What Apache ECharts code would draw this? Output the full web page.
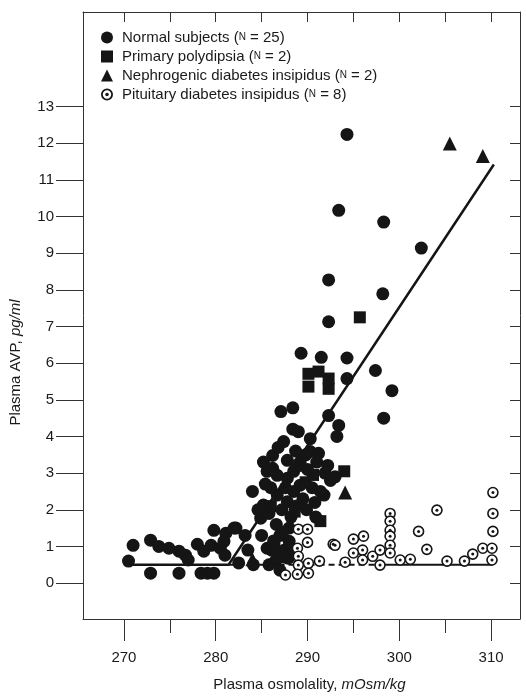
<!DOCTYPE html>
<html>
<head>
<meta charset="utf-8">
<script src="https://cdn.jsdelivr.net/npm/echarts@6/dist/echarts.min.js"></script>
<style>
  html, body { margin: 0; padding: 0; background: #fff; }
  #chart { width: 526px; height: 697px; }
</style>
</head>
<body>
<div id="chart"></div>
<script>
// axis ranges and tick values
const xMin = 265.54, xMax = 313.15;
const yMin = -0.98, yMax = 15.58;
const xLabels = [270, 280, 290, 300, 310];
const xMinorTicks = [275, 285, 295, 305];
const xTopTicks = [270, 275, 280, 285, 290, 295, 300, 305, 310];
const yLabels = [0, 1, 2, 3, 4, 5, 6, 7, 8, 9, 10, 11, 12, 13];

// Normal subjects (filled circles)
const normalPts = [
  [271.0, 1.03], [270.5, 0.6], [272.9, 1.17], [273.8, 1.0], [274.9, 0.95], [276.0, 0.87],
  [276.7, 0.76], [277.0, 0.63], [278.0, 1.06], [278.7, 0.87], [279.5, 1.03], [280.5, 0.95],
  [279.8, 1.44], [281.1, 1.36], [282.2, 1.5], [281.0, 0.76],
  [272.9, 0.27], [276.0, 0.27], [278.4, 0.27], [279.1, 0.27], [279.8, 0.27],
  [284.0, 2.5], [285.2, 2.13], [286.7, 2.4], [287.8, 2.22], [284.9, 1.77], [285.8, 1.9],
  [286.6, 1.6], [285.0, 1.3], [285.6, 0.95], [286.3, 1.15], [287.0, 1.3], [287.5, 0.9],
  [286.5, 0.6], [287.0, 0.35], [285.8, 0.5], [284.1, 0.5], [288.0, 1.14], [287.9, 0.68],
  [288.2, 1.8], [288.5, 2.5], [289.2, 2.67], [285.6, 3.05], [286.7, 2.94], [286.2, 3.48],
  [285.2, 3.3], [286.2, 3.13], [287.8, 3.35], [287.8, 2.86], [288.5, 3.05], [287.4, 3.86],
  [287.1, 4.68], [288.4, 4.78], [288.4, 4.2], [289.0, 4.13], [290.3, 3.94], [290.3, 3.59],
  [291.2, 3.54], [292.2, 3.21], [289.2, 3.3], [290.0, 3.1], [291.0, 3.3], [290.5, 2.6],
  [291.8, 2.4], [289.5, 2.3], [292.5, 2.8], [291.4, 2.5], [292.3, 4.57], [293.4, 4.3],
  [293.2, 4.0], [282.0, 1.5], [280.9, 1.14],
  [286.0, 2.6], [287.2, 2.0], [288.0, 1.5], [288.8, 2.1], [289.8, 3.5], [290.8, 2.2],
  [291.9, 3.0], [288.7, 3.6], [286.8, 3.7], [285.4, 2.7], [287.6, 2.6], [286.1, 0.9],
  [288.4, 0.9], [284.6, 2.0], [283.2, 1.3], [283.5, 0.9], [282.5, 0.55], [293.0, 2.9],
  [289.9, 2.0], [290.9, 1.8],
  [289.3, 6.27], [291.5, 6.16], [294.3, 6.14], [297.4, 5.8], [294.3, 5.58], [299.2, 5.25],
  [298.3, 4.5], [292.3, 7.13], [298.2, 7.89], [292.3, 8.27], [302.4, 9.14], [298.3, 9.85],
  [293.4, 10.17], [294.3, 12.24]
];

// Primary polydipsia (filled squares)
const polydipsiaPts = [
  [290.1, 5.71], [291.2, 5.77], [292.3, 5.58], [292.3, 5.3], [290.1, 5.36], [295.7, 7.25],
  [294.0, 3.05], [291.4, 1.69], [286.4, 1.0], [287.3, 1.4], [288.6, 1.95], [289.8, 2.75],
  [290.6, 2.95], [286.0, 2.1], [287.0, 0.7], [288.8, 3.2]
];

// Nephrogenic diabetes insipidus (filled triangles)
const nephrogenicPts = [
  [305.5, 11.99], [309.1, 11.65], [294.1, 2.47], [284.0, 0.65]
];

// Pituitary diabetes insipidus (open circles with dot)
const pituitaryPts = [
  [289.0, 1.47], [290.0, 1.47], [290.0, 1.11], [288.9, 0.95], [292.8, 1.06], [289.0, 0.73],
  [290.1, 0.54], [291.3, 0.6], [289.0, 0.49], [287.6, 0.22], [288.9, 0.24], [290.1, 0.27],
  [293.0, 1.03], [295.0, 1.2], [296.1, 1.28], [296.0, 0.9], [295.0, 0.82], [294.1, 0.57],
  [297.1, 0.73], [297.9, 0.9], [297.9, 0.49], [296.0, 0.63], [299.0, 1.9], [299.0, 1.69],
  [299.0, 1.44], [299.0, 1.28], [299.0, 1.03], [299.0, 0.82], [300.1, 0.63], [301.2, 0.65],
  [302.1, 1.41], [304.1, 1.99], [303.0, 0.92], [305.2, 0.6], [307.1, 0.6], [308.0, 0.79],
  [309.1, 0.95], [310.1, 0.95], [310.1, 0.63], [310.2, 1.41], [310.2, 1.9], [310.2, 2.47]
];

// fitted lines
const trendLine = [[270, 0.5], [281.4, 0.5], [310.3, 11.42]];
const baseDashed = [[281.4, 0.5], [297.5, 0.5]];
const baseSolid = [[297.5, 0.5], [310.2, 0.5]];

const legendText = {
  normal: 'Normal subjects ({n|N} = 25)',
  poly: 'Primary polydipsia ({n|N} = 2)',
  neph: 'Nephrogenic diabetes insipidus ({n|N} = 2)',
  pit: 'Pituitary diabetes insipidus ({n|N} = 8)'
};

const ink = '#151515';
const font = 'Liberation Sans';
const ringIcon = 'path://M0,-10A10,10,0,1,1,0,10A10,10,0,1,1,0,-10ZM0,-7A7,7,0,1,0,0,7A7,7,0,1,0,0,-7ZM0,-3A3,3,0,1,1,0,3A3,3,0,1,1,0,-3Z';

const chart = echarts.init(document.getElementById('chart'), null, { renderer: 'canvas' });

chart.setOption({
  animation: false,
  backgroundColor: '#fff',
  textStyle: { fontFamily: font },
  grid: { left: 82, right: 6, top: 12, bottom: 76 },
  legend: {
    orient: 'vertical',
    left: 96,
    top: 25,
    itemWidth: 12,
    itemHeight: 12,
    itemGap: 4,
    selectedMode: false,
    data: [
      { name: 'normal', icon: 'circle' },
      { name: 'poly', icon: 'rect' },
      { name: 'neph', icon: 'triangle' },
      { name: 'pit', icon: ringIcon, itemStyle: { color: ink, borderWidth: 0 } }
    ],
    formatter: name => legendText[name],
    textStyle: {
      fontSize: 15,
      color: '#1a1a1a',
      padding: [0, 0, 0, 4],
      rich: { n: { fontSize: 10, color: '#1a1a1a' } }
    }
  },
  xAxis: [
    {
      type: 'value', position: 'bottom', min: xMin, max: xMax,
      axisLine: { show: true, onZero: false, lineStyle: { color: '#333', width: 1 } },
      axisTick: { show: true, inside: false, length: 22, customValues: xLabels, lineStyle: { color: '#333' } },
      axisLabel: { customValues: xLabels, fontSize: 15, color: '#1a1a1a', margin: 31 },
      splitLine: { show: false },
      name: 'Plasma osmolality, {i|mOsm/kg}',
      nameLocation: 'middle',
      nameGap: 58,
      nameTextStyle: {
        fontSize: 15, color: '#1a1a1a', padding: [0, 0, 0, 16],
        rich: { i: { fontSize: 15, fontStyle: 'italic', color: '#1a1a1a' } }
      }
    },
    {
      type: 'value', position: 'bottom', min: xMin, max: xMax,
      axisLine: { show: false, onZero: false },
      axisTick: { show: true, inside: false, length: 14, customValues: xMinorTicks, lineStyle: { color: '#333' } },
      axisLabel: { show: false },
      splitLine: { show: false }
    },
    {
      type: 'value', position: 'top', min: xMin, max: xMax,
      axisLine: { show: true, onZero: false, lineStyle: { color: '#333', width: 1 } },
      axisTick: { show: true, inside: true, length: 10, customValues: xTopTicks, lineStyle: { color: '#333' } },
      axisLabel: { show: false },
      splitLine: { show: false }
    }
  ],
  yAxis: [
    {
      type: 'value', position: 'left', min: yMin, max: yMax,
      axisLine: { show: true, onZero: false, lineStyle: { color: '#333', width: 1 } },
      axisTick: { show: true, inside: false, length: 27, customValues: yLabels, lineStyle: { color: '#333' } },
      axisLabel: { customValues: yLabels, fontSize: 15, color: '#1a1a1a', margin: 29 },
      splitLine: { show: false },
      name: 'Plasma AVP, {i|pg/ml}',
      nameLocation: 'middle',
      nameRotate: 90,
      nameGap: 60,
      nameTextStyle: {
        fontSize: 15, color: '#1a1a1a', padding: [0, 94, 0, 0],
        rich: { i: { fontSize: 15, fontStyle: 'italic', color: '#1a1a1a' } }
      }
    },
    {
      type: 'value', position: 'right', min: yMin, max: yMax,
      axisLine: { show: true, onZero: false, lineStyle: { color: '#333', width: 1 } },
      axisTick: { show: true, inside: true, length: 10, customValues: yLabels, lineStyle: { color: '#333' } },
      axisLabel: { show: false },
      splitLine: { show: false }
    }
  ],
  series: [
    {
      name: 'trend', type: 'line', data: trendLine, symbol: 'none', z: 6,
      lineStyle: { color: ink, width: 2.5 }
    },
    {
      name: 'baseDashed', type: 'line', data: baseDashed, symbol: 'none', z: 1,
      lineStyle: { color: ink, width: 2, type: [6, 4] }
    },
    {
      name: 'baseSolid', type: 'line', data: baseSolid, symbol: 'none', z: 1,
      lineStyle: { color: ink, width: 2 }
    },
    {
      name: 'normal', type: 'scatter', data: normalPts, symbol: 'circle', symbolSize: 13, z: 3,
      itemStyle: { color: ink, opacity: 1 }
    },
    {
      name: 'poly', type: 'scatter', data: polydipsiaPts, symbol: 'rect', symbolSize: 12, z: 3,
      itemStyle: { color: ink, opacity: 1 }
    },
    {
      name: 'neph', type: 'scatter', data: nephrogenicPts, symbol: 'triangle', symbolSize: 14, z: 3,
      itemStyle: { color: ink, opacity: 1 }
    },
    {
      name: 'pit', type: 'scatter', data: pituitaryPts, symbol: 'circle', symbolSize: 10, z: 4,
      itemStyle: { color: '#fff', borderColor: ink, borderWidth: 1.6, opacity: 1 }
    },
    {
      name: 'pitDot', type: 'scatter', data: pituitaryPts, symbol: 'circle', symbolSize: 3, z: 5,
      itemStyle: { color: ink, opacity: 1 }, silent: true
    }
  ]
});
</script>
</body>
</html>
